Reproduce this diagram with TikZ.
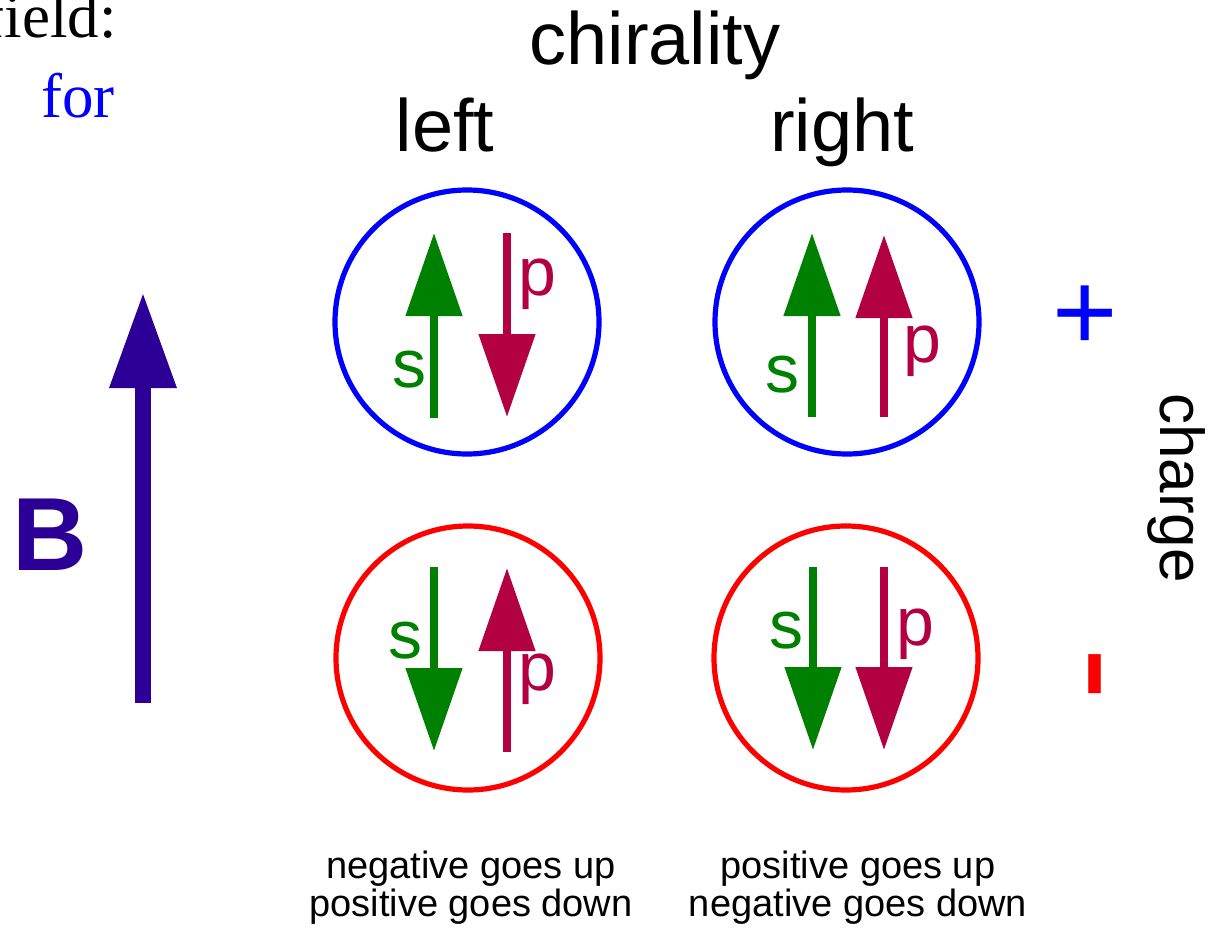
\documentclass[tikz,border=0pt]{standalone}
\usepackage{fontspec}
\setmainfont{Liberation Sans}
\newfontfamily\serifface{Liberation Serif}
\usetikzlibrary{arrows.meta}
\definecolor{spingreen}{RGB}{0,128,0}
\definecolor{momred}{RGB}{178,0,64}
\definecolor{bindigo}{RGB}{44,0,150}
\definecolor{posblue}{RGB}{0,0,255}
\definecolor{negred}{RGB}{255,0,0}
\begin{document}
\begin{tikzpicture}[x=0.5pt,y=-0.5pt,
  ring/.style={draw, circle, line width=2.6pt, inner sep=0pt, minimum size=132pt},
  spinarrow/.style={line width=4pt, -{Triangle[width=27.5pt,length=41.5pt]}},
  spinlbl/.style={inner sep=0pt, anchor=base, font=\fontsize{34}{40}\selectfont},
  heading/.style={inner sep=0pt, anchor=base, font=\fontsize{37}{44}\selectfont},
  note/.style={inner sep=0pt, align=center, font=\fontsize{19}{19}\selectfont}]
\useasboundingbox (0,0) rectangle (1210,931);
\clip (0,0) rectangle (1210,931);

% top-left serif fragments
\node[inner sep=0pt, anchor=base east, font=\serifface\fontsize{31.5}{36}\selectfont] (field) at (117,38) {field:};
\node[inner sep=0pt, anchor=base west, text=posblue, font=\serifface\fontsize{31.5}{36}\selectfont] (for) at (41,118) {for};

% headings
\node[heading] (chir) at (655,65) {chirality};
\node[heading] (left) at (445,152) {left};
\node[heading] (right) at (842,152) {right};

% B field
\node[inner sep=0pt, text=bindigo, font=\bfseries\fontsize{52}{60}\selectfont] (B) at (50,535) {B};
\coordinate (Bbot) at (143,703);
\coordinate (Btip) at (143,292);
\draw[bindigo, line width=8pt, -{Triangle[width=31.5pt,length=48pt]}] (Bbot) -- (Btip);

% circles
\node[ring, draw=posblue] (tl) at (467,322) {};
\node[ring, draw=posblue] (tr) at (847,322) {};
\node[ring, draw=negred] (bl) at (468,658) {};
\node[ring, draw=negred] (br) at (846,658) {};

% top-left: s up, p down
\coordinate (tls0) at (434,418); \coordinate (tls1) at (434,233);
\coordinate (tlp0) at (507,233); \coordinate (tlp1) at (507,417);
\draw[spinarrow, spingreen] (tls0) -- (tls1);
\draw[spinarrow, momred] (tlp0) -- (tlp1);
\node[spinlbl, text=spingreen] (tlsl) at (409,387) {s};
\node[spinlbl, text=momred] (tlpl) at (537,295) {p};

% top-right: s up, p up
\coordinate (trs0) at (812,417); \coordinate (trs1) at (812,233);
\coordinate (trp0) at (884,417); \coordinate (trp1) at (884,235);
\draw[spinarrow, spingreen] (trs0) -- (trs1);
\draw[spinarrow, momred] (trp0) -- (trp1);
\node[spinlbl, text=spingreen] (trsl) at (782,392) {s};
\node[spinlbl, text=momred] (trpl) at (922,362) {p};

% bottom-left: s down, p up
\coordinate (bls0) at (434,567); \coordinate (bls1) at (434,751);
\coordinate (blp0) at (507,752); \coordinate (blp1) at (507,568);
\draw[spinarrow, spingreen] (bls0) -- (bls1);
\draw[spinarrow, momred] (blp0) -- (blp1);
\node[spinlbl, text=spingreen] (blsl) at (405,658) {s};
\node[spinlbl, text=momred] (blpl) at (537,690) {p};

% bottom-right: s down, p down
\coordinate (brs0) at (813,567); \coordinate (brs1) at (813,750);
\coordinate (brp0) at (884,567); \coordinate (brp1) at (884,750);
\draw[spinarrow, spingreen] (brs0) -- (brs1);
\draw[spinarrow, momred] (brp0) -- (brp1);
\node[spinlbl, text=spingreen] (brsl) at (786,648) {s};
\node[spinlbl, text=momred] (brpl) at (915,645) {p};

% charge
\node[inner sep=0pt, text=posblue, font=\fontsize{56}{60}\selectfont] (plus) at (1085,318.5) {+};
\node[inner sep=0pt, text=negred, rotate=-90, font=\fontsize{80}{90}\selectfont] (minus) at (1077,674) {-};
\node[inner sep=0pt, rotate=-90, font=\fontsize{31}{36}\selectfont] (charge) at (1177,488) {charge};

% notes
\node[note] (noteL) at (471,888) {negative goes up\\positive goes down};
\node[note] (noteR) at (858,888) {positive goes up\\negative goes down};
\end{tikzpicture}
\end{document}
